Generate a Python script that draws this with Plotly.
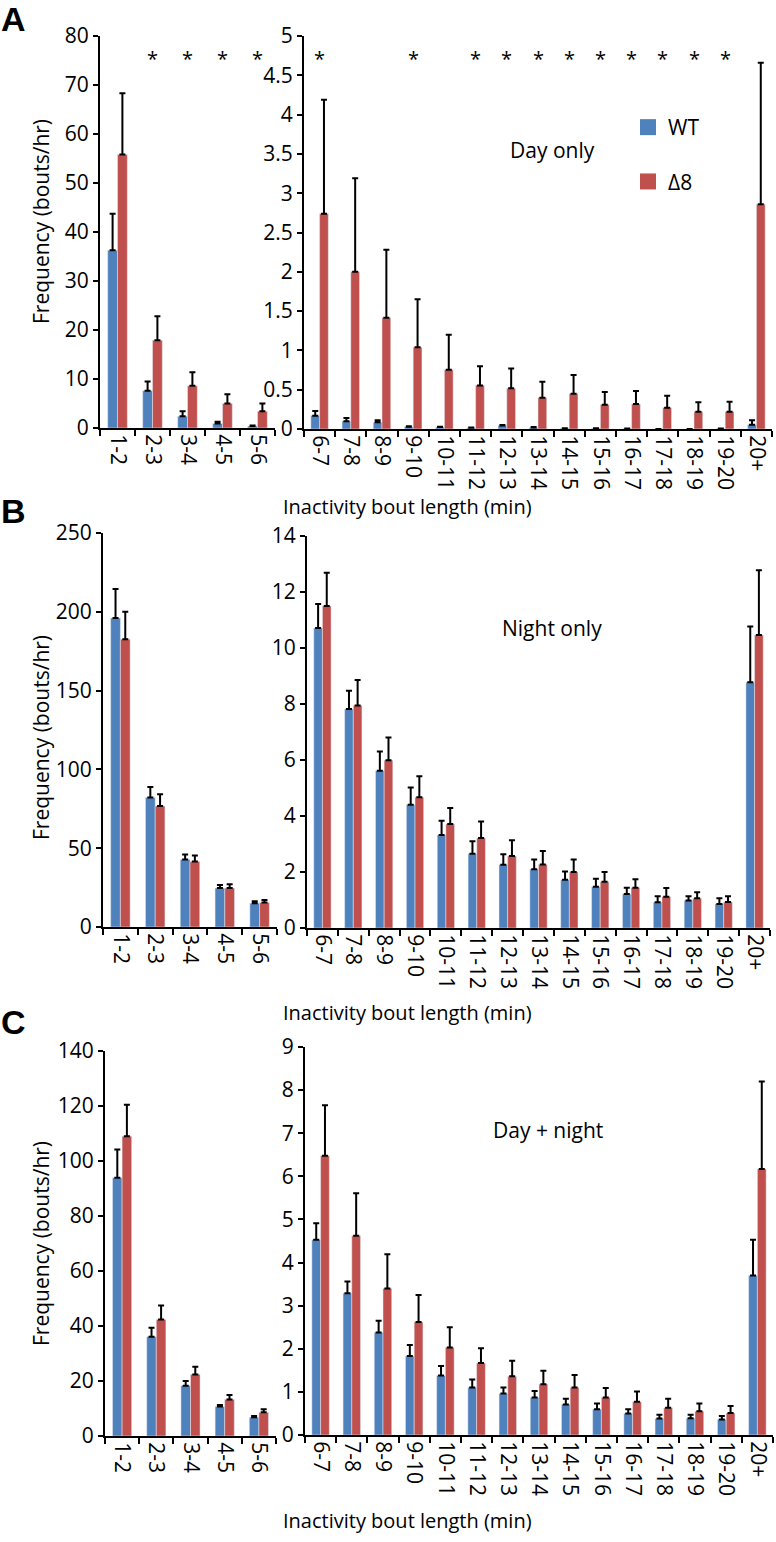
import plotly.graph_objects as go

W, H = 776, 1542

cats_short = ["1-2", "2-3", "3-4", "4-5", "5-6"]
cats_long = ["6-7", "7-8", "8-9", "9-10", "10-11", "11-12", "12-13", "13-14",
             "14-15", "15-16", "16-17", "17-18", "18-19", "19-20", "20+"]

# Panel A: Day only
day_wt_short = [36.3, 7.6, 2.4, 0.9, 0.4]
day_wt_short_err = [7.4, 1.9, 1.0, 0.4, 0.1]
day_d8_short = [55.8, 17.9, 8.6, 5.0, 3.4]
day_d8_short_err = [12.5, 4.9, 2.8, 1.9, 1.6]
day_wt_long = [0.17, 0.10, 0.085, 0.03, 0.025, 0.015, 0.045, 0.02, 0.01, 0.01, 0.005, 0.0, 0.0, 0.005, 0.055]
day_wt_long_err = [0.06, 0.04, 0.025, 0.005, 0.005, 0.005, 0.005, 0.005, 0.0, 0.0, 0.0, 0.0, 0.0, 0.0, 0.055]
day_d8_long = [2.74, 2.0, 1.415, 1.04, 0.754, 0.555, 0.517, 0.398, 0.449, 0.309, 0.318, 0.271, 0.22, 0.22, 2.86]
day_d8_long_err = [1.45, 1.19, 0.865, 0.61, 0.446, 0.242, 0.253, 0.202, 0.237, 0.161, 0.165, 0.153, 0.119, 0.127, 1.8]
day_sig_short = ["2-3", "3-4", "4-5", "5-6"]
day_sig_long = ["6-7", "9-10", "11-12", "12-13", "13-14", "14-15", "15-16", "16-17", "17-18", "18-19", "19-20"]

# Panel B: Night only
night_wt_short = [196.0, 82.1, 42.8, 24.7, 15.1]
night_wt_short_err = [18.4, 6.8, 3.2, 1.9, 1.3]
night_d8_short = [182.6, 76.8, 41.5, 24.7, 15.5]
night_d8_short_err = [17.4, 7.5, 3.8, 2.5, 1.7]
night_wt_long = [10.71, 7.82, 5.62, 4.40, 3.32, 2.65, 2.26, 2.10, 1.72, 1.47, 1.21, 0.92, 0.98, 0.86, 8.78]
night_wt_long_err = [0.86, 0.65, 0.68, 0.62, 0.51, 0.45, 0.37, 0.35, 0.30, 0.29, 0.23, 0.21, 0.15, 0.20, 1.99]
night_d8_long = [11.5, 7.95, 5.99, 4.67, 3.71, 3.21, 2.57, 2.27, 2.0, 1.65, 1.44, 1.12, 1.06, 0.93, 10.46]
night_d8_long_err = [1.19, 0.91, 0.81, 0.75, 0.58, 0.59, 0.56, 0.48, 0.45, 0.35, 0.30, 0.31, 0.22, 0.20, 2.32]

# Panel C: Day + night
both_wt_short = [93.9, 36.1, 18.3, 10.7, 6.8]
both_wt_short_err = [10.3, 3.3, 1.7, 0.6, 0.5]
both_d8_short = [109.0, 42.4, 22.4, 13.3, 8.6]
both_d8_short_err = [11.5, 5.1, 2.8, 1.6, 1.1]
both_wt_long = [4.53, 3.29, 2.38, 1.83, 1.38, 1.10, 0.96, 0.87, 0.71, 0.60, 0.50, 0.38, 0.39, 0.36, 3.70]
both_wt_long_err = [0.38, 0.27, 0.27, 0.26, 0.22, 0.19, 0.14, 0.15, 0.13, 0.13, 0.10, 0.09, 0.08, 0.08, 0.83]
both_d8_long = [6.48, 4.62, 3.40, 2.62, 2.03, 1.67, 1.36, 1.18, 1.10, 0.87, 0.77, 0.63, 0.55, 0.51, 6.17]
both_d8_long_err = [1.17, 0.99, 0.79, 0.63, 0.47, 0.34, 0.36, 0.31, 0.29, 0.22, 0.24, 0.21, 0.18, 0.16, 2.03]

WT_COLOR = "#4F81BD"
D8_COLOR = "#C0504D"
FONT = "Open Sans"

panels = [
    dict(letter="A", label="Day only",
         short=(day_wt_short, day_wt_short_err, day_d8_short, day_d8_short_err),
         long=(day_wt_long, day_wt_long_err, day_d8_long, day_d8_long_err),
         left_px=(100, 275, 36, 428), right_px=(304, 772, 36, 429),
         left_range=80, left_dtick=10, right_range=5, right_dtick=0.5,
         letter_y=19, ytitle_y=222, xtitle_y=507, label_xy=(552, 150),
         sig_short=day_sig_short, sig_long=day_sig_long),
    dict(letter="B", label="Night only",
         short=(night_wt_short, night_wt_short_err, night_d8_short, night_d8_short_err),
         long=(night_wt_long, night_wt_long_err, night_d8_long, night_d8_long_err),
         left_px=(103, 277, 533, 927), right_px=(307, 770, 536, 928),
         left_range=250, left_dtick=50, right_range=14, right_dtick=2,
         letter_y=511, ytitle_y=738, xtitle_y=1012, label_xy=(552, 628),
         sig_short=[], sig_long=[]),
    dict(letter="C", label="Day + night",
         short=(both_wt_short, both_wt_short_err, both_d8_short, both_d8_short_err),
         long=(both_wt_long, both_wt_long_err, both_d8_long, both_d8_long_err),
         left_px=(105, 276, 1051, 1436), right_px=(305, 773, 1047, 1435),
         left_range=140, left_dtick=20, right_range=9, right_dtick=1,
         letter_y=1022, ytitle_y=1244, xtitle_y=1520, label_xy=(548, 1130),
         sig_short=[], sig_long=[]),
]

fig = go.Figure()
layout = dict(
    width=W, height=H,
    margin=dict(l=0, r=0, t=0, b=0, autoexpand=False),
    paper_bgcolor="white", plot_bgcolor="white",
    barmode="group", bargap=0.44, bargroupgap=0.0,
    font=dict(family=FONT, size=20, color="black"),
    showlegend=True,
    legend=dict(x=628 / W, y=1 - 107 / H, xanchor="left", yanchor="top",
                font=dict(family=FONT, size=21), tracegroupgap=24,
                bgcolor="rgba(0,0,0,0)", itemwidth=30),
)
annotations = []


def fx(px):
    return px / W


def fy(py):
    return 1 - py / H


def err_dict(arr):
    return dict(type="data", symmetric=False, array=arr, arrayminus=[0] * len(arr),
                color="black", thickness=2, width=3)


ax = 1
for pi, p in enumerate(panels):
    for side in ("short", "long"):
        cats = cats_short if side == "short" else cats_long
        wt, wte, d8, d8e = p[side]
        xa = "x" if ax == 1 else f"x{ax}"
        ya = "y" if ax == 1 else f"y{ax}"
        fig.add_trace(go.Bar(x=cats, y=wt, name="WT", marker_color=WT_COLOR,
                             error_y=err_dict(wte), xaxis=xa, yaxis=ya,
                             showlegend=False))
        fig.add_trace(go.Bar(x=cats, y=d8, name="Δ8", marker_color=D8_COLOR,
                             error_y=err_dict(d8e), xaxis=xa, yaxis=ya,
                             showlegend=False))
        if side == "short":
            x0, x1, top, bot = p["left_px"]
            rng, dt = p["left_range"], p["left_dtick"]
            sig = p["sig_short"]
        else:
            x0, x1, top, bot = p["right_px"]
            rng, dt = p["right_range"], p["right_dtick"]
            sig = p["sig_long"]
        xkey = "xaxis" if ax == 1 else f"xaxis{ax}"
        ykey = "yaxis" if ax == 1 else f"yaxis{ax}"
        layout[xkey] = dict(domain=[fx(x0), fx(x1)], anchor=ya, type="category",
                            range=[-0.5, len(cats) - 0.5], automargin=False,
                            showline=True, linecolor="black", linewidth=2,
                            ticks="outside", tickson="boundaries", ticklen=6,
                            tickwidth=2, tickcolor="black", tickangle=90,
                            showgrid=False, zeroline=False,
                            tickfont=dict(family=FONT, size=21))
        layout[ykey] = dict(domain=[fy(bot), fy(top)], anchor=xa,
                            range=[0, rng], dtick=dt, tick0=0, automargin=False,
                            showline=True, linecolor="black", linewidth=2,
                            ticks="outside", ticklen=5, tickwidth=2, tickcolor="black",
                            showgrid=False, zeroline=False,
                            tickfont=dict(family=FONT, size=21))
        for c in sig:
            annotations.append(dict(x=c, y=1 - 22 / (bot - top), xref=xa, yref=f"{ya} domain",
                                    text="*", showarrow=False,
                                    font=dict(family=FONT, size=20), yanchor="middle"))
        ax += 1

    annotations.append(dict(x=fx(14), y=fy(p["letter_y"]), xref="paper", yref="paper",
                            text=f"<b>{p['letter']}</b>", showarrow=False,
                            font=dict(family="Liberation Sans", size=34),
                            xanchor="center", yanchor="middle"))
    annotations.append(dict(x=fx(41), y=fy(p["ytitle_y"]), xref="paper", yref="paper",
                            text="Frequency (bouts/hr)", showarrow=False, textangle=-90,
                            font=dict(family=FONT, size=21),
                            xanchor="center", yanchor="middle"))
    annotations.append(dict(x=fx(407), y=fy(p["xtitle_y"]), xref="paper", yref="paper",
                            text="Inactivity bout length (min)", showarrow=False,
                            font=dict(family=FONT, size=20),
                            xanchor="center", yanchor="middle"))
    lx, ly = p["label_xy"]
    annotations.append(dict(x=fx(lx), y=fy(ly), xref="paper", yref="paper",
                            text=p["label"], showarrow=False,
                            font=dict(family=FONT, size=21),
                            xanchor="center", yanchor="middle"))

# legend-only entries (no data)
fig.add_trace(go.Scatter(x=[None], y=[None], mode="markers", name="WT",
                         marker=dict(symbol="square", size=16, color=WT_COLOR),
                         xaxis="x2", yaxis="y2", legendgroup="wt", showlegend=True))
fig.add_trace(go.Scatter(x=[None], y=[None], mode="markers", name="Δ8",
                         marker=dict(symbol="square", size=16, color=D8_COLOR),
                         xaxis="x2", yaxis="y2", legendgroup="d8", showlegend=True))

layout["annotations"] = annotations
fig.update_layout(**layout)
fig.write_html("out.html", config={"displayModeBar": False},
               post_script="document.body.style.margin='0px';document.body.style.overflow='hidden';")
